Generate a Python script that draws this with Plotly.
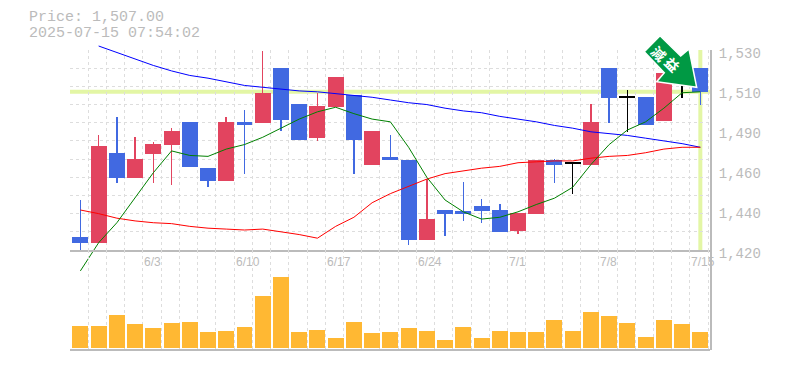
import plotly.graph_objects as go

dates_tick_idx = [4, 9, 14, 19, 24, 29, 34]
dates_tick_txt = ["6/3", "6/10", "6/17", "6/24", "7/1", "7/8", "7/15"]

highs = [1447.5,1483,1493,1482,1479.5,1487,1490.5,1465,1493,1497,1529.5,1520,1500.5,1506.5,1515,1505,1485.5,1483,1469.5,1459,1442,1457.5,1448,1445.5,1440.5,1469.5,1470,1467.5,1500.5,1520,1508,1504,1517.5,1511.5,1520]
tops = [1427,1477,1473.5,1470,1478.5,1485.5,1490.5,1465,1490.5,1490.5,1506.5,1520,1500.5,1499,1515,1505,1485.5,1471,1469.5,1437,1442,1441.5,1444,1442,1440.5,1469.5,1469.5,1467.5,1490.5,1520,1504,1504,1517.5,1511,1520]
bottoms = [1424,1424,1459.5,1459.5,1473,1478,1465.5,1458,1458,1489,1490,1491.5,1480.5,1481.5,1498.5,1480.5,1467,1469.5,1425.5,1425.5,1440,1440,1441.5,1430,1430.5,1440,1467,1467.5,1467,1503.5,1504,1489,1491,1511,1507]
lows = [1419.5,1424,1457,1459.5,1457,1456,1465.5,1454.5,1458,1462,1490,1485.5,1480.5,1480,1498.5,1462,1467,1469.5,1423,1425.5,1427.5,1436,1435,1430,1429,1440,1457,1451,1467,1490,1485,1489,1491,1503.5,1500]
kinds = list("BRBRRRBBRBRBBRRBRBBRBBBBRRBKRBKBRKB")

ma_blue = [None,1532.2,1528.5,1525,1521.5,1518.5,1516,1514.5,1512.5,1510.5,1509.5,1508.5,1507.5,1507,1506,1505,1504,1502.5,1501,1500,1498,1496.5,1495.5,1493.5,1492,1490.5,1488.5,1487,1485,1484,1483,1481.5,1480,1478.5,1476.5]
ma_red = [1442,1440,1437.5,1436,1435,1434.5,1433,1432,1431.5,1431,1431.5,1430,1428.5,1426.5,1433,1438,1446,1451,1455,1459,1462,1463.5,1465,1466,1468,1468.5,1469,1469,1470.5,1471.5,1472,1473.5,1475.5,1476.5,1476.5]
ma_green = [1408.5,1424,1435,1449,1462.5,1474.5,1472,1471.5,1475.5,1478,1482,1487,1492,1496,1498.5,1495,1492,1490.5,1476.5,1460,1447.5,1441,1437,1438,1441,1445,1448.5,1454.5,1467,1478,1486,1490.5,1498,1506.5,1507]

volumes = [22,22,33,24,20,25,26,16,17,21,52,71,16,18,10,26,15,16,20,17,8,21,10,17,16,16,28,17,36,32,25,11,28,24,16]

price_now = 1507
ytick_vals = [1530, 1508, 1486, 1464, 1442, 1420]
ytick_txt = ["1,530", "1,510", "1,490", "1,460", "1,440", "1,420"]
title_lines = ["Price: 1,507.00", "2025-07-15 07:54:02"]
stamp_text = "減益"

GRAY = "#bbbbbb"
GRID = "#dddddd"
COLORS = {"B": "#4169e1", "R": "#e2445f", "K": "#000000"}
n = len(highs)
xs = list(range(n))
BW = 0.877
WW = 0.03

fig = go.Figure()

for vals, col in ((ma_blue, "#0000ff"), (ma_red, "#ff0000"), (ma_green, "#008000")):
    fig.add_trace(go.Scatter(x=xs, y=vals, mode="lines", line=dict(color=col, width=1),
                             cliponaxis=False, hoverinfo="skip", showlegend=False))

fig.add_trace(go.Bar(x=xs, base=lows, y=[h - l for h, l in zip(highs, lows)], width=WW,
                     marker=dict(color=[COLORS[k] for k in kinds], line=dict(width=0)), showlegend=False))
fig.add_trace(go.Bar(x=xs, base=bottoms, y=[max(t - b, 0.6) for t, b in zip(tops, bottoms)], width=BW,
                     marker=dict(color=[COLORS[k] for k in kinds], line=dict(width=0)), showlegend=False))
fig.add_trace(go.Bar(x=xs, y=volumes, yaxis="y2", width=BW,
                     marker=dict(color="#ffb833", line=dict(width=0)), showlegend=False))

grid_minor = dict(showgrid=True, gridcolor=GRID, gridwidth=1, griddash="3px,3px", ticks="")
fig.update_layout(
    width=777, height=362, margin=dict(l=62, r=75, t=42, b=20, pad=0, autoexpand=False),
    paper_bgcolor="white", plot_bgcolor="white", barmode="overlay", bargap=0,
    showlegend=False,
    xaxis=dict(range=[-0.57, 34.53], anchor="y", showticklabels=False,
               showgrid=False, zeroline=False, ticks="",
               showline=True, linecolor=GRAY, linewidth=2,
               minor=dict(tickmode="linear", tick0=-0.57, dtick=1, **grid_minor)),
    yaxis=dict(domain=[1/3, 1], range=[1420, 1530], side="right", anchor="x", tickmode="array",
               tickvals=ytick_vals, ticktext=ytick_txt, showgrid=False, zeroline=False, ticks="",
               showline=True, linecolor=GRAY, linewidth=2, ticklabelstandoff=4, ticklabelshift=3,
               tickfont=dict(family="Liberation Mono", size=14, color=GRAY),
               minor=dict(tickmode="linear", tick0=1420, dtick=10, **grid_minor)),
    yaxis2=dict(domain=[0, 1/3], range=[-2, 98], side="right", anchor="x", showticklabels=False,
                showgrid=False, zeroline=False, ticks="", showline=True, linecolor=GRAY, linewidth=2),
)

LIGHT = "#e3f6a5"
fig.add_shape(type="line", xref="paper", x0=0, x1=1, yref="y", y0=price_now, y1=price_now,
              line=dict(color=LIGHT, width=4), layer="below")
fig.add_shape(type="line", xref="x", x0=xs[-1], x1=xs[-1], yref="y", y0=1420, y1=1530,
              line=dict(color=LIGHT, width=4), layer="below")
fig.add_shape(type="line", xref="paper", x0=0, x1=1, yref="paper", y0=0, y1=0,
              line=dict(color=GRAY, width=2), layer="above")

# stamp arrow, positioned in window pixels
def px(x, y):
    return (x - 70) / 640, (350 - y) / 300
verts = [(644.3, 51.7), (660, 35.7), (680.7, 56), (689, 49), (696.7, 87.3), (656.7, 81.7), (664.3, 72.7)]
path = "M " + " L ".join(f"{px(*v)[0]:.4f},{px(*v)[1]:.4f}" for v in verts) + " Z"
fig.add_shape(type="path", path=path, xref="paper", yref="paper", fillcolor="#009944",
              line=dict(color="white", width=1.5), layer="above")

for ch, (cx, cy) in zip(stamp_text, [(658.5, 53), (672.5, 63.5)]):
    fig.add_annotation(text=ch, xref="paper", yref="paper", x=px(cx, cy)[0], y=px(cx, cy)[1],
                       showarrow=False, textangle=45, xanchor="center", yanchor="middle",
                       font=dict(family="Noto Sans CJK JP", size=14, weight="bold", color="white"))

for line, cy in zip(title_lines, (18, 33)):
    fig.add_annotation(text=line, xref="paper", yref="paper", x=px(27, cy)[0], y=px(27, cy)[1],
                       showarrow=False, xanchor="left", yanchor="middle", align="left",
                       font=dict(family="Liberation Mono", size=15, color=GRAY))

for i, t in zip(dates_tick_idx, dates_tick_txt):
    fig.add_annotation(text=t, xref="x", x=i, yref="paper", y=px(0, 262)[1], xshift=-11,
                       showarrow=False, xanchor="left", yanchor="middle",
                       font=dict(family="Liberation Sans", size=12, color=GRAY))

unclip = """
var gd = document.querySelector('.plotly-graph-div');
function unclip() {
  gd.querySelectorAll('[clip-path]').forEach(function (e) {
    e.removeAttribute('clip-path');
  });
  gd.querySelectorAll('.scatterlayer path').forEach(function (e) {
    e.style.clipPath = 'none';
  });
}
unclip();
[0, 20, 60, 150, 400].forEach(function (t) { setTimeout(unclip, t); });
"""
fig.write_html("out.html", post_script=unclip)
